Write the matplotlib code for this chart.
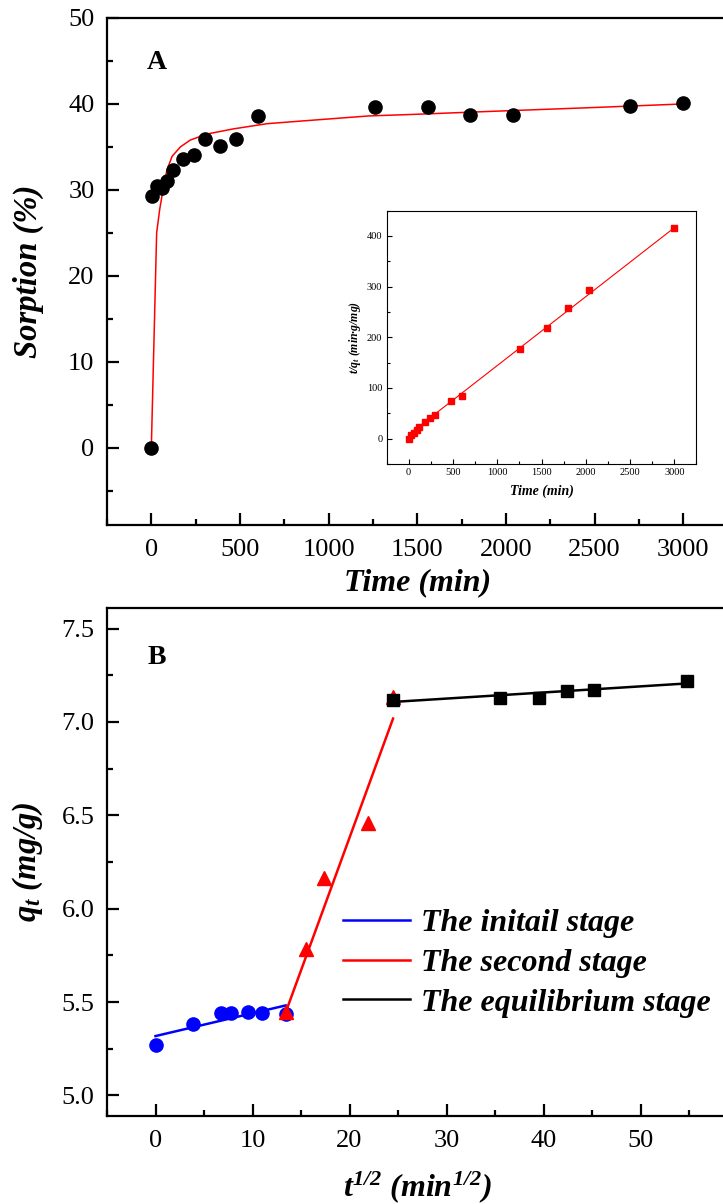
import matplotlib
matplotlib.use("Agg")
import matplotlib.pyplot as plt
from matplotlib.ticker import MultipleLocator, FormatStrFormatter
from matplotlib.lines import Line2D

plt.rcParams['font.family'] = ['Liberation Serif', 'DejaVu Serif']
plt.rcParams['mathtext.fontset'] = 'custom'
plt.rcParams['mathtext.rm'] = 'Liberation Serif'
plt.rcParams['mathtext.it'] = 'Liberation Serif:italic'
plt.rcParams['mathtext.bf'] = 'Liberation Serif:bold'
plt.rcParams['mathtext.bfit'] = 'Liberation Serif:bold:italic'

# ---------------- data: panel A (sorption vs time) ----------------
a_time = [0, 5, 30, 60, 90, 120, 180, 240, 300, 390, 480, 600, 1260, 1560, 1800, 2040, 2700, 3000]
a_sorption = [0, 29.3, 30.5, 30.2, 31.0, 32.3, 33.6, 34.1, 35.9, 35.1, 35.9, 38.6, 39.6, 39.6, 38.7, 38.7, 39.8, 40.1]

# fitted curve
a_fit_time = [0, 30, 47, 69, 88, 117, 164, 220, 314, 464, 652, 840, 1224, 1500, 1871, 2518, 3000]
a_fit_sorption = [0, 25.0, 27.7, 30.4, 32.3, 33.9, 35.0, 35.8, 36.5, 37.1, 37.7, 38.0, 38.6, 38.8, 39.1, 39.6, 40.0]

# inset: t/qt vs time
in_time = [0, 30, 60, 90, 120, 180, 240, 300, 480, 600, 1260, 1560, 1800, 2040, 3000]
in_tq = [0, 7.2, 11.8, 17.1, 22.4, 32.9, 40.8, 46.7, 73.7, 84.2, 176.3, 219.0, 258.6, 292.8, 416.4]
in_fit_time = [0, 3000]
in_fit_tq = [8.1, 416.1]

# ---------------- data: panel B (intraparticle diffusion) ----------------
b_x_init = [0, 3.87, 6.71, 7.75, 9.49, 10.95, 13.42]
b_y_init = [5.271, 5.38, 5.441, 5.441, 5.446, 5.441, 5.437]
b_x_second = [13.42, 15.49, 17.32, 21.91, 24.49]
b_y_second = [5.445, 5.785, 6.162, 6.459, 7.134]
b_x_eq = [24.49, 35.50, 39.50, 42.43, 45.17, 54.77]
b_y_eq = [7.12, 7.13, 7.13, 7.166, 7.17, 7.22]

fit_init_x = [0, 13.42]
fit_init_y = [5.318, 5.482]
fit_second_x = [13.42, 24.49]
fit_second_y = [5.445, 7.018]
fit_eq_x = [24.49, 54.77]
fit_eq_y = [7.107, 7.206]

legend_labels = ["The initail stage", "The second stage", "The equilibrium stage"]

W, H = 723, 1204
fig = plt.figure(figsize=(W / 100, H / 100), dpi=100)


def frac(left, top, right, bottom):
    return [left / W, 1 - bottom / H, (right - left) / W, (bottom - top) / H]


def style_axes(ax, lw=1.6, maj=8.5, mnr=4.5, size=19, xpad=10, ypad=9):
    for s in ax.spines.values():
        s.set_linewidth(lw)
    ax.tick_params(which='both', direction='in', width=lw, labelsize=size)
    ax.tick_params(axis='x', which='both', pad=xpad)
    ax.tick_params(axis='y', which='both', pad=ypad)
    ax.tick_params(which='major', length=maj)
    ax.tick_params(which='minor', length=mnr)
    ax.tick_params(top=False, right=False, which='both')


# ---------------- Panel A ----------------
axA = fig.add_axes(frac(107, 18, 727.6, 525))
axA.plot(a_fit_time, a_fit_sorption, color='#ff0000', lw=1.1, zorder=2)
axA.plot(a_time, a_sorption, 'o', color='black', ms=9.5, zorder=3)
axA.set_xlim(-250, 3250)
axA.set_ylim(-9, 50)
axA.xaxis.set_major_locator(MultipleLocator(500))
axA.xaxis.set_minor_locator(MultipleLocator(250))
axA.set_yticks([0, 10, 20, 30, 40, 50])
axA.yaxis.set_minor_locator(MultipleLocator(5))
style_axes(axA)
axA.set_xlabel("Time (min)", fontsize=23, fontweight='bold', style='italic')
axA.set_ylabel("Sorption (%)", fontsize=23.5, fontweight='bold', style='italic')
axA.xaxis.set_label_coords(0.5, -0.114)
axA.xaxis.label.set_va('center')
axA.yaxis.set_label_coords((28 - 107) / 620.6, 0.5)
axA.yaxis.label.set_va('center')
axA.text(0.08, 0.913, "A", transform=axA.transAxes, fontsize=20, fontweight='bold',
         ha='center', va='center')

# inset
axI = fig.add_axes(frac(386.5, 210.5, 696.5, 464))
axI.plot(in_fit_time, in_fit_tq, color='#ff0000', lw=0.8, zorder=2)
axI.plot(in_time, in_tq, 's', color='#ff0000', ms=4, zorder=3)
axI.set_xlim(-250, 3250)
axI.set_ylim(-50, 450)
axI.xaxis.set_major_locator(MultipleLocator(500))
axI.xaxis.set_minor_locator(MultipleLocator(250))
axI.set_yticks([0, 100, 200, 300, 400])
axI.yaxis.set_minor_locator(MultipleLocator(50))
style_axes(axI, lw=0.8, maj=3.5, mnr=2, size=7.5, xpad=3, ypad=3)
axI.set_xlabel("Time (min)", fontsize=10, fontweight='bold', style='italic')
axI.set_ylabel(r"$\bfit{t/q_t}$ (min·g/mg)", fontsize=8.5, fontweight='bold', style='italic')
axI.xaxis.set_label_coords(0.5, -0.108)
axI.xaxis.label.set_va('center')
axI.yaxis.set_label_coords(-31.5 / 310, 0.5)
axI.yaxis.label.set_va('center')

# ---------------- Panel B ----------------
axB = fig.add_axes(frac(107, 608, 727.8, 1116))
axB.plot(fit_init_x, fit_init_y, color='#0000ff', lw=1.8, zorder=2)
axB.plot(fit_second_x, fit_second_y, color='#ff0000', lw=1.8, zorder=2)
axB.plot(fit_eq_x, fit_eq_y, color='black', lw=1.8, zorder=2)
axB.plot(b_x_init, b_y_init, 'o', color='#0000ff', ms=9.5, zorder=3)
axB.plot(b_x_second, b_y_second, '^', color='#ff0000', ms=10.5, zorder=4)
axB.plot(b_x_eq, b_y_eq, 's', color='black', ms=9, zorder=5)
axB.set_xlim(-5, 59)
axB.set_ylim(4.89, 7.61)
axB.xaxis.set_major_locator(MultipleLocator(10))
axB.xaxis.set_minor_locator(MultipleLocator(5))
axB.yaxis.set_major_locator(MultipleLocator(0.5))
axB.yaxis.set_minor_locator(MultipleLocator(0.25))
axB.yaxis.set_major_formatter(FormatStrFormatter('%.1f'))
style_axes(axB)
axB.set_xlabel(r"$\bfit{t^{1/2}}$ $\bfit{(min^{1/2})}$", fontsize=23)
axB.set_ylabel(r"$\bfit{q_t}$ (mg/g)", fontsize=23.5, fontweight='bold', style='italic')
axB.xaxis.set_label_coords(0.5, -0.14)
axB.xaxis.label.set_va('center')
axB.yaxis.set_label_coords((28 - 107) / 620.8, 0.5)
axB.yaxis.label.set_va('center')
axB.text((157 - 107) / 620.8, 0.902, "B", transform=axB.transAxes, fontsize=20,
         fontweight='bold', ha='center', va='center')

handles = [Line2D([], [], color=c, lw=1.8) for c in ['#0000ff', '#ff0000', 'black']]
leg = fig.legend(handles, legend_labels, loc='center left',
                 bbox_to_anchor=(343 / W, 1 - 963 / H), bbox_transform=fig.transFigure,
                 frameon=False, borderpad=0, borderaxespad=0, handlelength=2.1,
                 handletextpad=0.33, labelspacing=0.33,
                 prop={'family': 'Liberation Serif', 'weight': 'bold', 'style': 'italic', 'size': 23})

fig.savefig("out.png", dpi=100)
